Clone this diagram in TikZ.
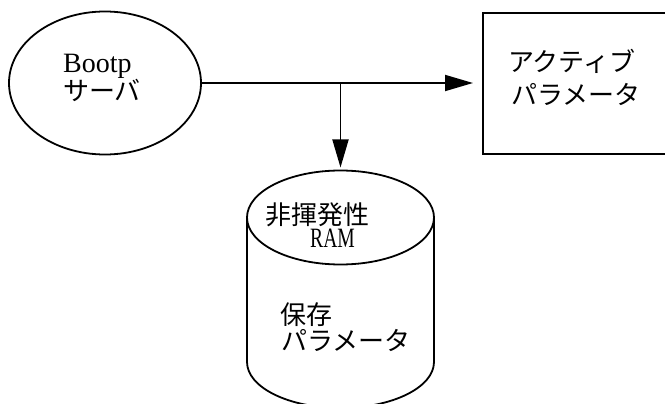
\documentclass[tikz,border=0pt]{standalone}
\usepackage{fontspec}
\usepackage{graphicx}
\setmainfont{Liberation Serif}
\newfontfamily\jp{Noto Sans CJK JP}
\usetikzlibrary{arrows.meta,shapes.geometric}
\tikzset{
  line/.style={line width=1.8pt, black},
  arr/.style={line, -{Triangle[length=28pt,width=16pt]}},
  jptext/.style={anchor=base west, inner sep=0pt, font=\jp\fontsize{26}{30}\selectfont},
  latext/.style={anchor=base west, inner sep=0pt, font=\fontsize{28}{30}\selectfont},
}
\begin{document}
\begin{tikzpicture}[x=1pt,y=-1pt]
\useasboundingbox (0,0) rectangle (665,404);
\clip (0,0) rectangle (665,404);
% shapes
\node[ellipse, draw, line, minimum width=192pt, minimum height=143pt, inner sep=0pt] (boot) at (105,83) {};
\node[rectangle, draw, line, minimum width=200pt, minimum height=141pt, inner sep=0pt, anchor=north west] (act) at (482,12) {};
\node[rectangle, minimum width=187pt, minimum height=234pt, inner sep=0pt, anchor=north] (ram) at (340.5,170.5) {};
% cylinder
\draw[line] (340.5,217.5) ellipse [x radius=93.5, y radius=47];
\draw[line] (247,217.5) -- (247,362) arc [start angle=180, end angle=0, x radius=93.5, y radius=46] -- (434,217.5);
% texts
\node[latext] (t1) at (63,73) {Bootp};
\node[jptext] (t2) at (63,101) {サーバ};
\node[jptext] (t3) at (508,72) {アクティブ};
\node[jptext] (t4) at (511,105) {パラメータ};
\node[jptext] (t5) at (265,224) {非揮発性};
\node[latext] (t6) at (310,247) {\scalebox{0.7}[1]{RAM}};
\node[jptext] (t7) at (280,324) {保存};
\node[jptext] (t8) at (281,350) {パラメータ};
% connectors
\coordinate (br) at (ram.north |- boot.east);
\draw[arr, shorten >=9pt] (boot.east) -- (act.west |- boot.east);
\draw[arr, shorten >=3pt] (br) -- (ram.north);
\end{tikzpicture}
\end{document}
